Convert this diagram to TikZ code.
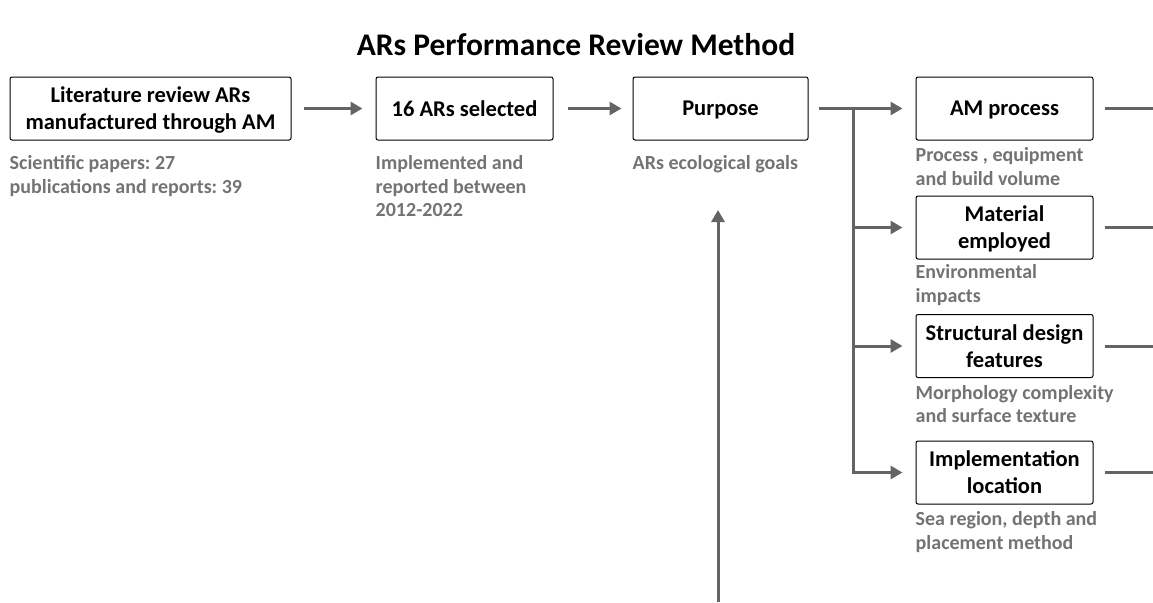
\documentclass[tikz,border=0pt]{standalone}
\usepackage{fontspec}
\setmainfont{Carlito}
\usetikzlibrary{arrows.meta}
\usetikzlibrary{positioning}
\definecolor{linegray}{RGB}{100,100,100}
\definecolor{notegray}{RGB}{115,115,115}
\frenchspacing

\begin{document}
\begin{tikzpicture}[
    x=1pt, y=-1pt,
    stage/.style={draw, rounded corners=2pt, line width=1pt, minimum height=63pt, inner sep=2pt,
        text depth=0pt, align=center, font=\fontsize{22.5}{27}\selectfont\bfseries},
    note/.style={anchor=north west, inner sep=0pt, align=left, text=notegray,
        font=\fontsize{20}{23.5}\selectfont\bfseries\frenchspacing},
    plain/.style={draw=linegray, line width=3pt},
    link/.style={plain, -{Triangle[length=12pt, width=13pt]}}
]
\useasboundingbox (0,0) rectangle (1153,602);

% --- Title ---
\node (title) at (576,45) {\fontsize{31.5}{38}\selectfont\bfseries ARs Performance Review Method};

% --- Main row ---
\node[stage, minimum width=281pt] (lit) at (150.5,108.5) {Literature review ARs\\manufactured through AM};
\node[stage, minimum width=177pt] (sel) at (464.5,108.5) {16 ARs selected};
\node[stage, minimum width=175pt] (purpose) at (720.5,108.5) {Purpose};

% --- Review criteria ---
\node[stage, minimum width=177pt] (amp) at (1004.5,108.5) {AM process};
\node[stage, minimum width=177pt] (mat) at (1004.5,227.5) {Material\\employed};
\node[stage, minimum width=177pt] (str) at (1004.5,346) {Structural design\\features};
\node[stage, minimum width=177pt] (loc) at (1004.5,472.5) {Implementation\\location};

% --- Notes under the boxes ---
\node[note] (litnote) at ([yshift=-15pt]lit.south west) {Scientific papers: 27\\publications and reports: 39};
\node[note] (selnote) at ([yshift=-15pt]sel.south west) {Implemented and\\reported between\\2012-2022};
\node[note] (purposenote) at ([yshift=-15pt]purpose.south west) {ARs ecological goals};
\node[note] (ampnote) at ([yshift=-7pt]amp.south west) {Process , equipment\\and build volume};
\node[note] (matnote) at ([yshift=-5pt]mat.south west) {Environmental\\impacts};
\node[note] (strnote) at ([yshift=-7pt]str.south west) {Morphology complexity\\and surface texture};
\node[note] (locnote) at ([yshift=-7pt]loc.south west) {Sea region, depth and\\placement method};

% --- Helper points ---
\coordinate (split) at (853,108.5);
\coordinate (edge) at (1153,0);
\coordinate (feedin) at (718,602);
\coordinate (feedtip) at (718,210);

% --- Main row arrows ---
\draw[link, shorten <=12pt, shorten >=13pt] (lit) -- (sel);
\draw[link, shorten <=14pt, shorten >=11pt] (sel) -- (purpose);
\draw[plain, shorten <=10pt] (purpose) -- (split);

% --- Branches to the criteria ---
\foreach \b in {amp,mat,str,loc}
{
    \draw[link, shorten >=13pt] (split) |- (\b.west);
    \draw[plain, shorten <=11pt] (\b.east) -- (\b.east -| edge);
}

% --- Arrow from below ---
\draw[link] (feedin) -- (feedtip);

\end{tikzpicture}
\end{document}
